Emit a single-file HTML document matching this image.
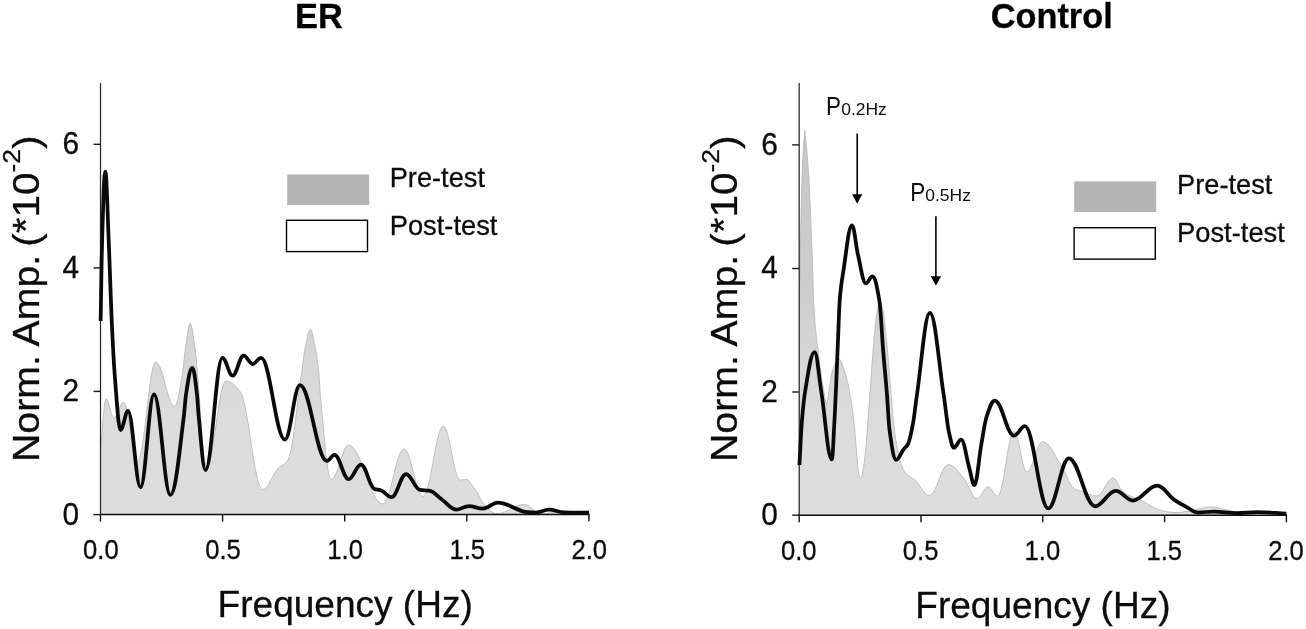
<!DOCTYPE html>
<html><head><meta charset="utf-8"><title>Figure</title>
<style>
html,body{margin:0;padding:0;background:#fff;}
body{width:1306px;height:629px;overflow:hidden;}
svg{display:block;will-change:transform;}
text{font-family:"Liberation Sans",sans-serif;fill:#0c0c0c;stroke:#0c0c0c;stroke-width:0.3px;}
.ns{stroke:none;}
.b{font-weight:bold;}
</style></head><body>
<svg width="1306" height="629" viewBox="0 0 1306 629">
<defs><linearGradient id="gg" gradientUnits="userSpaceOnUse" x1="0" y1="130" x2="0" y2="515">
<stop offset="0" stop-color="#c6c6c6"/><stop offset="0.44" stop-color="#cecece"/><stop offset="0.53" stop-color="#d4d4d4"/><stop offset="0.75" stop-color="#dcdcdc"/><stop offset="1" stop-color="#dddddd"/></linearGradient></defs>
<rect x="0" y="0" width="1306" height="629" fill="#ffffff"/>
<path d="M100.50 450.00 C102.63 430.51 103.97 398.70 106.10 398.70 C109.03 398.70 110.87 417.70 113.80 417.70 C117.52 417.70 119.88 402.40 123.60 402.40 C128.88 402.40 132.22 461.00 137.50 461.00 C144.45 461.00 148.85 362.20 155.80 362.20 C162.98 362.20 167.52 406.30 174.70 406.30 C177.36 406.30 179.04 393.10 181.70 378.60 C183.22 370.32 184.18 356.49 185.70 346.80 C187.37 336.14 188.43 323.50 190.10 323.50 C191.89 323.50 193.01 335.45 194.80 346.80 C199.25 375.06 202.05 466.00 206.50 466.00 C213.91 466.00 218.59 381.20 226.00 381.20 C231.32 381.20 234.68 385.11 240.00 391.40 C248.59 401.55 254.01 489.40 262.60 489.40 C268.57 489.40 272.33 474.02 278.30 468.20 C281.76 464.83 283.94 465.58 287.40 461.00 C292.91 453.70 296.39 407.28 301.90 370.90 C303.31 361.62 304.19 351.76 305.60 345.40 C307.42 337.15 308.58 329.60 310.40 329.60 C312.07 329.60 313.13 337.52 314.80 345.40 C316.24 352.21 317.16 357.66 318.60 370.90 C319.44 378.57 319.96 391.46 320.80 400.00 C324.79 440.76 327.31 479.20 331.30 479.20 C337.87 479.20 342.03 445.10 348.60 445.10 C361.56 445.10 369.74 504.00 382.70 504.00 C390.79 504.00 395.91 449.00 404.00 449.00 C411.22 449.00 415.78 496.50 423.00 496.50 C430.71 496.50 435.59 426.30 443.30 426.30 C449.76 426.30 453.84 480.20 460.30 480.20 C462.39 480.20 463.71 479.20 465.80 479.20 C469.18 479.20 471.32 484.53 474.70 488.90 C478.61 493.95 481.09 501.61 485.00 505.40 C489.56 509.81 492.44 513.60 497.00 513.60 C507.37 513.60 513.93 504.40 524.30 504.40 C529.01 504.40 531.99 510.10 536.70 511.60 C539.85 512.61 541.85 513.50 545.00 513.50 C550.70 513.50 554.30 511.00 560.00 511.00 C565.70 511.00 569.30 512.86 575.00 514.00 L575.00 514.60 L100.50 514.60 Z" fill="url(#gg)" stroke="#b4b4b4" stroke-width="0.8" stroke-linejoin="round"/>
<path d="M100.5 83 V514.6" fill="none" stroke="#2a2a2a" stroke-width="1.25"/>
<path d="M99.9 514.6 H589.6" fill="none" stroke="#111" stroke-width="1.5"/>
<path d="M93.5 514.6 h7" stroke="#1a1a1a" stroke-width="1.4"/>
<text x="79.2" y="524.5" font-size="31.7" text-anchor="end" textLength="16.6" lengthAdjust="spacingAndGlyphs">0</text>
<path d="M93.5 391.4 h7" stroke="#1a1a1a" stroke-width="1.4"/>
<text x="79.2" y="401.3" font-size="31.7" text-anchor="end" textLength="16.6" lengthAdjust="spacingAndGlyphs">2</text>
<path d="M93.5 267.9 h7" stroke="#1a1a1a" stroke-width="1.4"/>
<text x="79.2" y="277.8" font-size="31.7" text-anchor="end" textLength="16.6" lengthAdjust="spacingAndGlyphs">4</text>
<path d="M93.5 144.3 h7" stroke="#1a1a1a" stroke-width="1.4"/>
<text x="79.2" y="154.2" font-size="31.7" text-anchor="end" textLength="16.6" lengthAdjust="spacingAndGlyphs">6</text>
<path d="M100.5 514.6 v7" stroke="#111" stroke-width="1.4"/>
<text x="100.9" y="559.4" font-size="27.8" text-anchor="middle" textLength="35.6" lengthAdjust="spacingAndGlyphs">0.0</text>
<path d="M222.6 514.6 v7" stroke="#111" stroke-width="1.4"/>
<text x="223.0" y="559.4" font-size="27.8" text-anchor="middle" textLength="35.6" lengthAdjust="spacingAndGlyphs">0.5</text>
<path d="M344.7 514.6 v7" stroke="#111" stroke-width="1.4"/>
<text x="345.1" y="559.4" font-size="27.8" text-anchor="middle" textLength="35.6" lengthAdjust="spacingAndGlyphs">1.0</text>
<path d="M466.8 514.6 v7" stroke="#111" stroke-width="1.4"/>
<text x="467.2" y="559.4" font-size="27.8" text-anchor="middle" textLength="35.6" lengthAdjust="spacingAndGlyphs">1.5</text>
<path d="M588.9 514.6 v7" stroke="#111" stroke-width="1.4"/>
<text x="589.3" y="559.4" font-size="27.8" text-anchor="middle" textLength="35.6" lengthAdjust="spacingAndGlyphs">2.0</text>
<path d="M100.65 321.00 C101.01 298.58 101.24 275.86 101.60 262.00 C103.01 208.03 103.89 171.50 105.30 171.50 C106.59 171.50 107.41 210.43 108.70 240.70 C109.54 260.28 110.06 278.81 110.90 300.00 C111.36 311.56 111.64 319.67 112.10 329.00 C113.24 352.33 113.96 366.08 115.10 380.00 C117.19 405.52 118.51 430.00 120.60 430.00 C123.41 430.00 125.19 410.80 128.00 410.80 C132.75 410.80 135.75 487.20 140.50 487.20 C145.63 487.20 148.87 394.30 154.00 394.30 C160.23 394.30 164.17 494.90 170.40 494.90 C175.57 494.90 178.83 456.38 184.00 415.00 C184.76 408.91 185.24 399.41 186.00 394.50 C188.39 379.04 189.91 367.80 192.30 367.80 C194.09 367.80 195.21 379.49 197.00 394.50 C197.61 399.61 197.99 408.72 198.60 415.00 C201.22 442.08 202.88 470.00 205.50 470.00 C211.92 470.00 215.98 357.80 222.40 357.80 C226.28 357.80 228.72 375.70 232.60 375.70 C236.78 375.70 239.42 355.60 243.60 355.60 C247.06 355.60 249.24 364.00 252.70 364.00 C255.89 364.00 257.91 357.80 261.10 357.80 C270.14 357.80 275.86 439.70 284.90 439.70 C290.60 439.70 294.20 385.20 299.90 385.20 C310.16 385.20 316.64 460.90 326.90 460.90 C329.79 460.90 331.61 454.80 334.50 454.80 C339.86 454.80 343.24 479.20 348.60 479.20 C353.31 479.20 356.29 464.50 361.00 464.50 C366.09 464.50 369.31 487.06 374.40 488.90 C376.79 489.77 378.31 489.54 380.70 490.30 C384.84 491.61 387.46 497.20 391.60 497.20 C397.11 497.20 400.59 474.00 406.10 474.00 C411.34 474.00 414.66 489.20 419.90 489.90 C423.43 490.37 425.67 490.14 429.20 490.60 C433.91 491.22 436.89 495.88 441.60 499.20 C447.11 503.08 450.59 509.60 456.10 509.60 C460.96 509.60 464.04 506.10 468.90 506.10 C474.11 506.10 477.39 508.70 482.60 508.70 C488.41 508.70 492.09 502.50 497.90 502.50 C508.73 502.50 515.57 510.95 526.40 512.10 C529.55 512.44 531.55 512.70 534.70 512.70 C540.21 512.70 543.69 509.60 549.20 509.60 C554.67 509.60 558.13 512.13 563.60 512.30 C573.25 512.60 579.35 512.55 589.00 512.70" fill="none" stroke="#0a0a0a" stroke-width="3.75" stroke-linejoin="round" stroke-linecap="butt"/>
<text class="b" x="318.9" y="28.4" font-size="35.6" text-anchor="middle" textLength="47.8" lengthAdjust="spacingAndGlyphs" style="fill:#000">ER</text>
<text x="345.2" y="617.1" font-size="37.5" text-anchor="middle" textLength="255.2" lengthAdjust="spacingAndGlyphs">Frequency (Hz)</text>
<g transform="translate(38.7 462.0) rotate(-90)"><text x="0" y="0" font-size="37" textLength="207.2" lengthAdjust="spacingAndGlyphs">Norm. Amp.</text><text x="215.3" y="0" font-size="37" textLength="111.1" lengthAdjust="spacingAndGlyphs">(*10<tspan font-size="24" dy="-18.5">-2</tspan><tspan dy="18.5">)</tspan></text></g>
<rect x="287.2" y="174.5" width="82" height="30.5" fill="#b4b4b4"/>
<rect x="286.5" y="220.3" width="81" height="31.3" fill="#fff" stroke="#000" stroke-width="1.4"/>
<text x="389.7" y="186.7" font-size="27.9" textLength="95.3" lengthAdjust="spacingAndGlyphs">Pre-test</text>
<text x="389.7" y="235.2" font-size="27.9" textLength="107.7" lengthAdjust="spacingAndGlyphs">Post-test</text>
<path d="M799.50 290.00 C800.60 243.64 801.30 192.66 802.40 168.00 C803.31 147.59 803.89 141.33 804.80 130.70 C806.09 141.33 806.91 149.32 808.20 168.00 C809.72 189.97 810.68 215.38 812.20 255.00 C812.81 270.85 813.19 293.44 813.80 304.00 C815.40 331.71 816.40 336.56 818.00 350.00 C821.23 377.20 823.27 389.68 826.50 405.50 C828.97 395.10 830.53 375.33 833.00 369.00 C835.24 363.26 836.66 359.10 838.90 359.10 C841.03 359.10 842.37 365.01 844.50 371.00 C846.36 376.24 847.54 381.56 849.40 391.00 C850.88 398.51 851.82 405.49 853.30 416.50 C855.96 436.25 857.64 478.70 860.30 478.70 C867.79 478.70 872.51 303.00 880.00 303.00 C886.65 303.00 890.85 421.25 897.50 449.70 C900.16 461.08 901.84 468.00 904.50 471.60 C908.64 477.20 911.26 476.68 915.40 480.50 C920.72 485.40 924.08 495.50 929.40 495.50 C936.58 495.50 941.12 464.60 948.30 464.60 C953.96 464.60 957.54 471.33 963.20 477.60 C968.48 483.45 971.82 498.50 977.10 498.50 C981.28 498.50 983.92 486.90 988.10 486.90 C991.71 486.90 993.99 496.10 997.60 496.10 C1003.83 496.10 1007.77 431.40 1014.00 431.40 C1018.90 431.40 1022.00 472.00 1026.90 472.00 C1032.79 472.00 1036.51 441.80 1042.40 441.80 C1049.47 441.80 1053.93 454.60 1061.00 465.00 C1066.13 472.55 1069.37 485.73 1074.50 488.70 C1077.24 490.29 1078.96 490.46 1081.70 491.40 C1087.36 493.34 1090.94 496.00 1096.60 496.00 C1102.87 496.00 1106.83 478.00 1113.10 478.00 C1116.86 478.00 1119.24 488.99 1123.00 491.80 C1130.49 497.38 1135.21 497.33 1142.70 501.10 C1148.59 504.06 1152.31 507.75 1158.20 509.40 C1164.47 511.15 1168.43 512.50 1174.70 512.50 C1180.51 512.50 1184.19 511.76 1190.00 511.00 C1197.56 510.01 1202.34 506.90 1209.90 506.90 C1216.97 506.90 1221.43 508.81 1228.50 510.40 C1232.87 511.38 1235.63 512.32 1240.00 513.50 L1240.00 515.20 L799.50 515.20 Z" fill="url(#gg)" stroke="#b4b4b4" stroke-width="0.8" stroke-linejoin="round"/>
<path d="M799.2 83 V515.2" fill="none" stroke="#2a2a2a" stroke-width="1.25"/>
<path d="M798.6 515.2 H1287.1" fill="none" stroke="#111" stroke-width="1.5"/>
<path d="M792.2 515.2 h7" stroke="#1a1a1a" stroke-width="1.4"/>
<text x="777.9" y="525.1" font-size="31.7" text-anchor="end" textLength="16.6" lengthAdjust="spacingAndGlyphs">0</text>
<path d="M792.2 392.0 h7" stroke="#1a1a1a" stroke-width="1.4"/>
<text x="777.9" y="401.9" font-size="31.7" text-anchor="end" textLength="16.6" lengthAdjust="spacingAndGlyphs">2</text>
<path d="M792.2 268.5 h7" stroke="#1a1a1a" stroke-width="1.4"/>
<text x="777.9" y="278.4" font-size="31.7" text-anchor="end" textLength="16.6" lengthAdjust="spacingAndGlyphs">4</text>
<path d="M792.2 144.9 h7" stroke="#1a1a1a" stroke-width="1.4"/>
<text x="777.9" y="154.8" font-size="31.7" text-anchor="end" textLength="16.6" lengthAdjust="spacingAndGlyphs">6</text>
<path d="M799.2 515.2 v7" stroke="#111" stroke-width="1.4"/>
<text x="798.8" y="560.0" font-size="27.8" text-anchor="middle" textLength="35.6" lengthAdjust="spacingAndGlyphs">0.0</text>
<path d="M921.0 515.2 v7" stroke="#111" stroke-width="1.4"/>
<text x="920.6" y="560.0" font-size="27.8" text-anchor="middle" textLength="35.6" lengthAdjust="spacingAndGlyphs">0.5</text>
<path d="M1042.8 515.2 v7" stroke="#111" stroke-width="1.4"/>
<text x="1042.4" y="560.0" font-size="27.8" text-anchor="middle" textLength="35.6" lengthAdjust="spacingAndGlyphs">1.0</text>
<path d="M1164.6 515.2 v7" stroke="#111" stroke-width="1.4"/>
<text x="1164.2" y="560.0" font-size="27.8" text-anchor="middle" textLength="35.6" lengthAdjust="spacingAndGlyphs">1.5</text>
<path d="M1286.4 515.2 v7" stroke="#111" stroke-width="1.4"/>
<text x="1286.0" y="560.0" font-size="27.8" text-anchor="middle" textLength="35.6" lengthAdjust="spacingAndGlyphs">2.0</text>
<path d="M799.40 465.00 C800.39 447.90 801.01 431.88 802.00 420.00 C803.22 405.38 803.98 398.37 805.20 391.00 C808.77 369.35 811.03 352.00 814.60 352.00 C817.11 352.00 818.69 375.58 821.20 391.00 C825.23 415.76 827.77 459.40 831.80 459.40 C832.83 459.40 833.47 438.10 834.50 420.00 C835.83 396.53 836.67 370.55 838.00 340.00 C838.65 325.16 839.05 309.00 839.70 300.80 C841.14 282.48 842.06 279.76 843.50 270.30 C846.73 249.14 848.77 225.30 852.00 225.30 C854.28 225.30 855.72 245.43 858.00 255.00 C861.00 267.59 862.90 283.40 865.90 283.40 C868.37 283.40 869.93 276.40 872.40 276.40 C875.06 276.40 876.74 285.23 879.40 300.80 C880.84 309.25 881.76 333.18 883.20 351.00 C884.64 368.82 885.56 376.63 887.00 395.00 C887.95 407.09 888.55 422.82 889.50 429.80 C892.05 448.51 893.65 459.80 896.20 459.80 C898.94 459.80 900.66 453.16 903.40 449.60 C905.15 447.32 906.25 447.26 908.00 444.00 C909.86 440.53 911.04 433.82 912.90 424.00 C914.42 415.99 915.38 405.39 916.90 395.00 C921.84 361.22 924.96 312.80 929.90 312.80 C935.14 312.80 938.46 361.05 943.70 395.00 C945.83 408.78 947.17 424.83 949.30 433.80 C951.01 441.01 952.09 447.70 953.80 447.70 C956.61 447.70 958.39 439.70 961.20 439.70 C964.24 439.70 966.16 457.20 969.20 467.60 C971.18 474.36 972.42 485.10 974.40 485.10 C977.02 485.10 978.68 458.91 981.30 444.50 C983.39 433.01 984.71 422.07 986.80 416.00 C989.84 407.18 991.76 400.50 994.80 400.50 C1002.10 400.50 1006.70 435.70 1014.00 435.70 C1018.14 435.70 1020.76 426.20 1024.90 426.20 C1033.75 426.20 1039.35 508.40 1048.20 508.40 C1056.07 508.40 1061.03 458.30 1068.90 458.30 C1078.86 458.30 1085.14 506.30 1095.10 506.30 C1102.97 506.30 1107.93 490.80 1115.80 490.80 C1122.22 490.80 1126.28 500.50 1132.70 500.50 C1141.97 500.50 1147.83 485.60 1157.10 485.60 C1163.79 485.60 1168.01 495.59 1174.70 500.10 C1179.41 503.28 1182.39 504.77 1187.10 507.30 C1191.05 509.42 1193.55 512.50 1197.50 512.50 C1203.77 512.50 1207.73 511.50 1214.00 511.50 C1222.63 511.50 1228.07 513.10 1236.70 513.10 C1244.57 513.10 1249.53 512.10 1257.40 512.10 C1268.42 512.10 1275.38 512.97 1286.40 513.50" fill="none" stroke="#0a0a0a" stroke-width="3.75" stroke-linejoin="round" stroke-linecap="butt"/>
<text class="b" x="1051.7" y="28.4" font-size="35.6" text-anchor="middle" textLength="122.0" lengthAdjust="spacingAndGlyphs" style="fill:#000">Control</text>
<text x="1042.9" y="618.3" font-size="37.5" text-anchor="middle" textLength="255.2" lengthAdjust="spacingAndGlyphs">Frequency (Hz)</text>
<g transform="translate(737.4 462.0) rotate(-90)"><text x="0" y="0" font-size="37" textLength="207.2" lengthAdjust="spacingAndGlyphs">Norm. Amp.</text><text x="215.3" y="0" font-size="37" textLength="111.1" lengthAdjust="spacingAndGlyphs">(*10<tspan font-size="24" dy="-18.5">-2</tspan><tspan dy="18.5">)</tspan></text></g>
<rect x="1074.2" y="181.4" width="82" height="30.6" fill="#b4b4b4"/>
<rect x="1074.1" y="227.7" width="81.2" height="31.4" fill="#fff" stroke="#000" stroke-width="1.4"/>
<text x="1177.1" y="193.6" font-size="27.9" textLength="95.3" lengthAdjust="spacingAndGlyphs">Pre-test</text>
<text x="1177.1" y="242.2" font-size="27.9" textLength="107.7" lengthAdjust="spacingAndGlyphs">Post-test</text>
<g transform="translate(826.1 114.8)"><text class="ns" x="0" y="0" font-size="26.4" transform="scale(0.85 1)">P</text><text class="ns" x="15.1" y="0" font-size="17.2" textLength="45.6" lengthAdjust="spacingAndGlyphs">0.2Hz</text></g>
<g transform="translate(910.2 201.3)"><text class="ns" x="0" y="0" font-size="26.4" transform="scale(0.85 1)">P</text><text class="ns" x="15.1" y="0" font-size="17.2" textLength="45.6" lengthAdjust="spacingAndGlyphs">0.5Hz</text></g>
<path d="M857.2 133.5 V195.7" stroke="#000" stroke-width="1.6"/><path d="M857.2 203.7 l-5.1 -9.5 h10.2 z" fill="#000"/>
<path d="M935.9 216.2 V277.8" stroke="#000" stroke-width="1.6"/><path d="M935.9 285.8 l-5.1 -9.5 h10.2 z" fill="#000"/>
</svg>
</body></html>
